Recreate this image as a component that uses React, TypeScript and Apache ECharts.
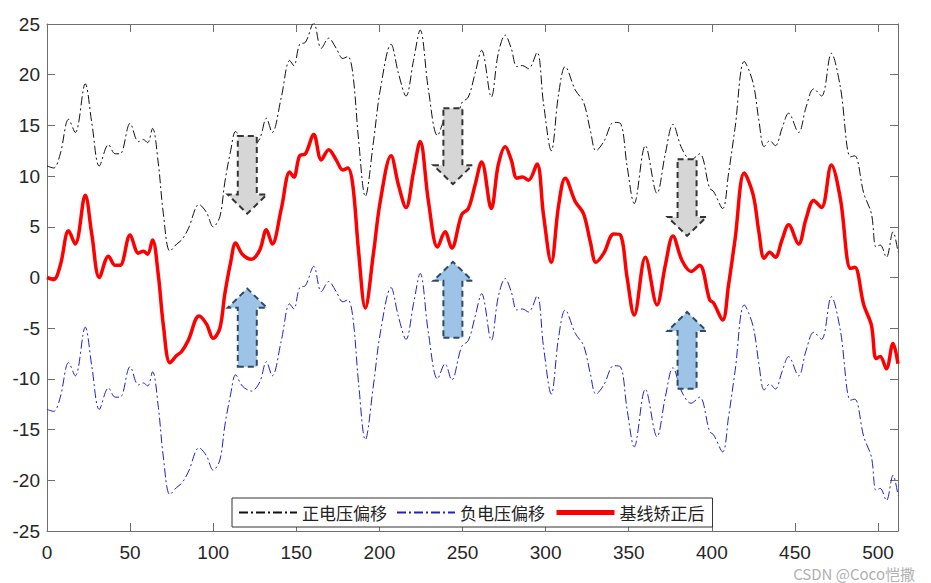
import React, { useEffect, useRef } from "react";
import * as echarts from "echarts";

// sample positions (x) and values
const xs = [
  0, 4, 8, 13, 17, 23, 27, 31.5, 37, 41,
  44, 50, 55, 58, 60.5, 63.5, 67, 70, 74, 78,
  81, 85, 91.5, 96, 100, 104, 107, 110.5, 113.5, 117.5,
  123, 128, 132, 135.5, 141, 146, 148.5, 152, 155.5, 160.5,
  165, 169.5, 174, 178, 181, 184, 187.5, 191.5, 196.5, 200.5,
  207, 211.5, 216, 220.5, 224.5, 229.5, 235, 239.5, 243.5, 249.5,
  253.5, 257.5, 261.5, 267.3, 271.5, 275.7, 279.3, 282.7, 286, 289.7,
  294.8, 298.7, 303.4, 307.8, 311.8, 317.8, 322.8, 326.9, 330.3, 335,
  341, 345, 349, 353.3, 360, 367, 372, 376.6, 382, 387.5,
  392.6, 398.7, 401, 406.5, 410, 414, 419.5, 424.8, 428.3, 431.5,
  434.8, 438.2, 442.2, 446.2, 452.2, 456.7, 461.3, 466, 471.9, 477.3,
  483.4, 486, 491.4, 496, 498.8, 501.3, 505, 509, 512,
];

const corrected = [
  0, -0.2, 1.2, 4.6, 3.3, 8.1, 4.2, 0.0, 2.1, 1.2,
  1.2, 4.2, 2.4, 2.6, 2.3, 3.7, 0.2, -4.7, -8.4, -7.7,
  -7.3, -6.2, -3.8, -4.6, -6.0, -5.0, -1.6, 1.5, 3.4, 2.3,
  1.8, 2.7, 4.7, 3.3, 6.8, 10.4, 9.9, 12.0, 12.2, 14.1,
  11.6, 12.6, 11.6, 10.6, 10.8, 9.1, 2.5, -3.0, 2.5, 7.5,
  12.0, 9.1, 6.9, 10.4, 13.4, 7.5, 3.0, 4.5, 2.9, 6.2,
  6.8, 9.1, 11.4, 6.8, 11.1, 12.9, 11.6, 9.8, 9.9, 9.6,
  11.2, 6.2, 1.5, 7.1, 9.8, 7.5, 6.3, 3.5, 1.5, 2.4,
  4.3, 4.2, 0.0, -3.7, 2.0, -2.7, 1.2, 4.1, 1.7, 0.6,
  1.2, -2.2, -2.5, -4.2, -0.8, 3.8, 10.3, 8.2, 4.5, 1.9,
  2.5, 2.0, 3.7, 5.2, 3.3, 5.8, 7.6, 6.9, 11.1, 7.8,
  0.9, 1.0, -2.7, -4.7, -8.0, -7.8, -9.0, -6.5, -8.5,
];

const positive = [
  11, 10.8, 12.2, 15.6, 14.3, 19.1, 15.2, 11.0, 13.1, 12.2,
  12.2, 15.2, 13.4, 13.6, 13.3, 14.7, 11.2, 6.3, 2.6, 3.3,
  3.7, 4.8, 7.2, 6.4, 5.0, 6.0, 9.4, 12.5, 14.4, 13.3,
  12.8, 13.7, 15.7, 14.3, 17.8, 21.4, 20.9, 23.0, 23.2, 25.1,
  22.6, 23.6, 22.6, 21.6, 21.8, 20.1, 13.5, 8.0, 13.5, 18.5,
  23.0, 20.1, 17.9, 21.4, 24.4, 18.5, 14.0, 15.5, 13.9, 17.2,
  17.8, 20.1, 22.4, 17.8, 22.1, 23.9, 22.6, 20.8, 20.9, 20.6,
  22.2, 17.2, 12.5, 18.1, 20.8, 18.5, 17.3, 14.5, 12.5, 13.4,
  15.3, 15.2, 11.0, 7.3, 13.0, 8.3, 12.2, 15.1, 12.7, 11.6,
  12.2, 8.8, 8.5, 6.8, 10.2, 14.8, 21.3, 19.2, 15.5, 12.9,
  13.5, 13.0, 14.7, 16.2, 14.3, 16.8, 18.6, 17.9, 22.1, 18.8,
  11.9, 12.0, 8.3, 6.3, 3.0, 3.2, 2.0, 4.5, 2.5,
];

const negative = [
  -13, -13.2, -11.8, -8.4, -9.7, -4.9, -8.8, -13.0, -10.9, -11.8,
  -11.8, -8.8, -10.6, -10.4, -10.7, -9.3, -12.8, -17.7, -21.4, -20.7,
  -20.3, -19.2, -16.8, -17.6, -19.0, -18.0, -14.6, -11.5, -9.6, -10.7,
  -11.2, -10.3, -8.3, -9.7, -6.2, -2.6, -3.1, -1.0, -0.8, 1.1,
  -1.4, -0.4, -1.4, -2.4, -2.2, -3.9, -10.5, -16.0, -10.5, -5.5,
  -1.0, -3.9, -6.1, -2.6, 0.4, -5.5, -10.0, -8.5, -10.1, -6.8,
  -6.2, -3.9, -1.6, -6.2, -1.9, -0.1, -1.4, -3.2, -3.1, -3.4,
  -1.8, -6.8, -11.5, -5.9, -3.2, -5.5, -6.7, -9.5, -11.5, -10.6,
  -8.7, -8.8, -13.0, -16.7, -11.0, -15.7, -11.8, -8.9, -11.3, -12.4,
  -11.8, -15.2, -15.5, -17.2, -13.8, -9.2, -2.7, -4.8, -8.5, -11.1,
  -10.5, -11.0, -9.3, -7.8, -9.7, -7.2, -5.4, -6.1, -1.9, -5.2,
  -12.1, -12.0, -15.7, -17.7, -21.0, -20.8, -22.0, -19.5, -21.5,
];

// annotation arrows: x centre, tail value, tip value
const arrowX = [120.5, 244.2, 385.1];
const downTail = [13.95, 16.7, 11.65];
const downTip = [6.3, 9.2, 4.1];
const upTail = [-8.8, -5.95, -10.96];
const upTip = [-1.1, 1.55, -3.4];

const seriesNames = ["正电压偏移", "负电压偏移", "基线矫正后"];
const watermark = "CSDN @Coco恺撒";

const axisColor = "#6e6e6e";
const labelFont = { fontSize: 19, fontFamily: "Liberation Sans, Arial", color: "#262626" };

function arrowRenderer(fill: string, stroke: string) {
  return (params: any, api: any) => {
    const x = api.value(0);
    const tail = api.value(1);
    const tip = api.value(2);
    const a = api.coord([x, tail]);
    const b = api.coord([x, tip]);
    const dir = b[1] > a[1] ? 1 : -1;
    const cx = a[0];
    const headH = 19;
    const sh = 9.5;
    const wh = 19.5;
    const hy = b[1] - dir * headH;
    return {
      type: "polygon",
      shape: {
        points: [
          [cx - sh, a[1]],
          [cx + sh, a[1]],
          [cx + sh, hy],
          [cx + wh, hy],
          [cx, b[1]],
          [cx - wh, hy],
          [cx - sh, hy],
        ],
      },
      style: { fill, stroke, lineWidth: 2, lineDash: [6, 4] },
      z2: 10,
    };
  };
}

export default function App() {
  const ref = useRef<HTMLDivElement>(null);

  useEffect(() => {
    document.body.style.margin = "0";
    if (!ref.current) return;
    const chart = echarts.init(ref.current, null, { renderer: "svg" });

    const xAxisBase = {
      type: "value",
      min: 0,
      max: 512,
      interval: 50,
      splitLine: { show: false },
      axisLine: { show: true, onZero: false, lineStyle: { color: axisColor, width: 1 } },
      axisTick: { show: true, inside: true, length: 8, lineStyle: { color: axisColor } },
    };
    const yAxisBase = {
      type: "value",
      min: -25,
      max: 25,
      interval: 5,
      splitLine: { show: false },
      axisLine: { show: true, onZero: false, lineStyle: { color: axisColor, width: 1 } },
      axisTick: { show: true, inside: true, length: 8, lineStyle: { color: axisColor } },
    };

    chart.setOption({
      animation: false,
      backgroundColor: "#ffffff",
      grid: { left: 47, top: 24, right: 33, bottom: 52, containLabel: false },
      xAxis: [
        {
          ...xAxisBase,
          position: "bottom",
          axisLabel: { ...labelFont, margin: 12, showMaxLabel: false },
        },
        {
          ...xAxisBase,
          position: "top",
          axisLabel: { show: false },
        },
      ],
      yAxis: [
        {
          ...yAxisBase,
          position: "left",
          axisLabel: { ...labelFont, margin: 7 },
        },
        {
          ...yAxisBase,
          position: "right",
          axisLabel: { show: false },
        },
      ],
      legend: {
        data: [
          { name: seriesNames[0] },
          { name: seriesNames[1] },
          { name: seriesNames[2], lineStyle: { width: 5 } },
        ],
        left: 232,
        top: 498,
        orient: "horizontal",
        itemWidth: 58,
        itemHeight: 14,
        itemGap: 9,
        padding: [6, 8, 6, 6],
        borderColor: "#333",
        borderWidth: 1,
        backgroundColor: "#ffffff",
        itemStyle: { color: "transparent", borderWidth: 0, opacity: 0 },
        textStyle: { fontSize: 17, color: "#222", fontFamily: "Noto Sans CJK SC" },
      },
      graphic: [
        {
          type: "text",
          right: 16,
          top: 566,
          style: {
            text: watermark,
            fill: "#b0b0b0",
            font: '15px "Noto Sans CJK SC"',
          },
        },
      ],
      series: [
        {
          name: seriesNames[0],
          type: "line",
          data: xs.map((x, i) => [x, positive[i]]),
          smooth: 0.35,
          symbol: "none",
          lineStyle: { color: "#111111", width: 1, type: [9, 3, 2, 3] },
          itemStyle: { color: "#111111" },
          z: 2,
        },
        {
          name: seriesNames[1],
          type: "line",
          data: xs.map((x, i) => [x, negative[i]]),
          smooth: 0.35,
          symbol: "none",
          lineStyle: { color: "#2020d0", width: 1, type: [9, 3, 2, 3] },
          itemStyle: { color: "#2020d0" },
          z: 2,
        },
        {
          name: seriesNames[2],
          type: "line",
          data: xs.map((x, i) => [x, corrected[i]]),
          smooth: 0.35,
          symbol: "none",
          lineStyle: { color: "#ff0000", width: 3.5 },
          itemStyle: { color: "#ff0000" },
          z: 3,
        },
        {
          name: "down",
          type: "custom",
          renderItem: arrowRenderer("#d6d6d6", "#333333"),
          data: arrowX.map((x, i) => [x, downTail[i], downTip[i]]),
          encode: { x: 0, y: [1, 2] },
          z: 5,
        },
        {
          name: "up",
          type: "custom",
          renderItem: arrowRenderer("#9dc3e6", "#2f4a68"),
          data: arrowX.map((x, i) => [x, upTail[i], upTip[i]]),
          encode: { x: 0, y: [1, 2] },
          z: 5,
        },
      ],
    });

    return () => {
      chart.dispose();
    };
  }, []);

  return <div ref={ref} style={{ width: 931, height: 583 }} />;
}
